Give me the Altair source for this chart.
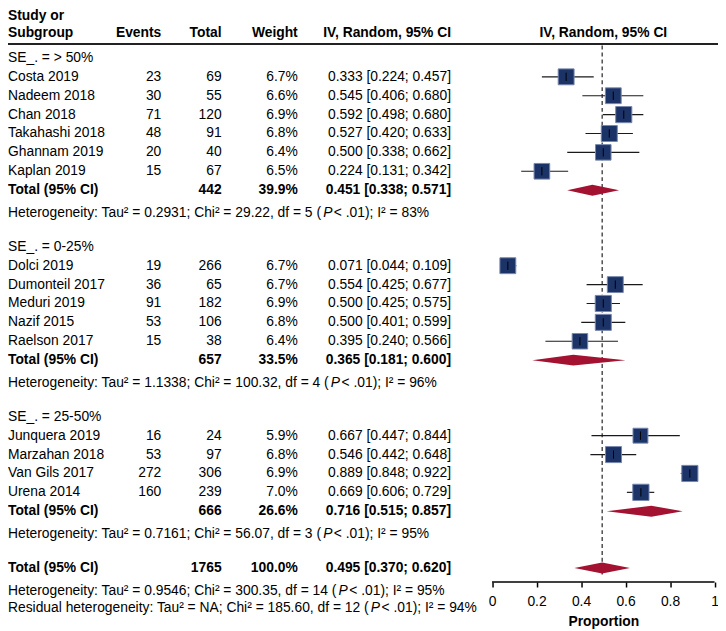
import altair as alt
import pandas as pd

# ---------------- data ----------------
studies = ["Costa 2019", "Nadeem 2018", "Chan 2018", "Takahashi 2018", "Ghannam 2019", "Kaplan 2019",
           "Dolci 2019", "Dumonteil 2017", "Meduri 2019", "Nazif 2015", "Raelson 2017",
           "Junquera 2019", "Marzahan 2018", "Van Gils 2017", "Urena 2014"]
study_group = [0, 0, 0, 0, 0, 0, 1, 1, 1, 1, 1, 2, 2, 2, 2]
events = [23, 30, 71, 48, 20, 15, 19, 36, 91, 53, 15, 16, 53, 272, 160]
totals = [69, 55, 120, 91, 40, 67, 266, 65, 182, 106, 38, 24, 97, 306, 239]
weights = [6.7, 6.6, 6.9, 6.8, 6.4, 6.5, 6.7, 6.7, 6.9, 6.8, 6.4, 5.9, 6.8, 6.9, 7.0]
est = [0.333, 0.545, 0.592, 0.527, 0.500, 0.224, 0.071, 0.554, 0.500, 0.500, 0.395, 0.667, 0.546, 0.889, 0.669]
lo = [0.224, 0.406, 0.498, 0.420, 0.338, 0.131, 0.044, 0.425, 0.425, 0.401, 0.240, 0.447, 0.442, 0.848, 0.606]
hi = [0.457, 0.680, 0.680, 0.633, 0.662, 0.342, 0.109, 0.677, 0.575, 0.599, 0.566, 0.844, 0.648, 0.922, 0.729]

group_labels = ["SE_. = > 50%", "SE_. = 0-25%", "SE_. = 25-50%"]
group_n = [442, 657, 666]
group_w = [39.9, 33.5, 26.6]
group_est = [0.451, 0.365, 0.716]
group_lo = [0.338, 0.181, 0.515]
group_hi = [0.571, 0.600, 0.857]
group_tau = ["0.2931", "1.1338", "0.7161"]
group_chi = ["29.22", "100.32", "56.07"]
group_df = [5, 4, 3]
group_i2 = [83, 96, 95]

overall_n = 1765
overall_w = 100.0
overall_est = 0.495
overall_lo = 0.370
overall_hi = 0.620
overall_tau = "0.9546"
overall_chi = "300.35"
overall_df = 14
overall_i2 = 95
resid_tau = "NA"
resid_chi = "185.60"
resid_df = 12
resid_i2 = 94

x_ticks = [0, 0.2, 0.4, 0.6, 0.8, 1]

# ---------------- layout / style ----------------
FONT = "Liberation Sans"
FS = 14
W, H = 718, 577
ROW_PX = 19.1
ROW0 = 47.0
X0, XU = 489.5, 225.0
COL_EVENTS, COL_TOTAL, COL_WEIGHT, COL_CI = 155, 216, 293, 448
SQ_FILL, SQ_STROKE = "#1b3366", "#7888ad"
DIAMOND = "#a31230"

AR = {' ': 278, '(': 333, ')': 333, '%': 889, ',': 278, '-': 333, '.': 278, ':': 278, ';': 278,
      '<': 584, '=': 584, '>': 584, '_': 556, '\u00b2': 333, '[': 278, ']': 278}
for d in "0123456789":
    AR[d] = 556
AR.update(dict(A=667, B=667, C=722, D=722, E=667, F=611, G=778, H=722, I=278, J=500, K=667, L=556, M=833,
               N=722, O=778, P=667, Q=778, R=722, S=667, T=611, U=722, V=667, W=944, X=667, Y=667, Z=611))
AR.update(dict(a=556, b=556, c=500, d=556, e=556, f=278, g=556, h=556, i=222, j=222, k=500, l=222, m=833,
               n=556, o=556, p=556, q=556, r=333, s=500, t=278, u=556, v=500, w=722, x=500, y=500, z=500))


def tw(s):
    return sum(AR.get(c, 556) for c in s) * FS / 1000.0


def fmt3(v):
    return f"{v:.3f}"


def ci_text(e, l, h):
    return f"{fmt3(e)} [{fmt3(l)}; {fmt3(h)}]"


# ---------------- build rows ----------------
reg_rows = []
bold_rows = []
study_rows = []
total_rows = []
het_rows = []

HDR1, HDR2, HLINE = -2.225, -1.31, -0.733

bold_rows.append(dict(r=HDR1, col="left", text="Study or"))
for col, txt in [("left", "Subgroup"), ("events", "Events"), ("total", "Total"),
                 ("weight", "Weight"), ("ci", "IV, Random, 95% CI")]:
    bold_rows.append(dict(r=HDR2, col=col, text=txt))


def add_het(r, prefix, i2):
    het_rows.append(dict(r=r, pre=prefix, post=f" < .01); I\u00b2 = {i2}%"))


r = 0.0
for g in range(3):
    reg_rows.append(dict(r=r, col="left", text=group_labels[g]))
    k = 1
    for i, s in enumerate(studies):
        if study_group[i] != g:
            continue
        rr = r + k
        k += 1
        study_rows.append(dict(r=rr, est=est[i], lo=lo[i], hi=hi[i], w=weights[i]))
        reg_rows += [dict(r=rr, col="left", text=s),
                     dict(r=rr, col="events", text=str(events[i])),
                     dict(r=rr, col="total", text=str(totals[i])),
                     dict(r=rr, col="weight", text=f"{weights[i]:.1f}%"),
                     dict(r=rr, col="ci", text=ci_text(est[i], lo[i], hi[i]))]
    rt = r + k
    total_rows.append(dict(r=rt, est=group_est[g], lo=group_lo[g], hi=group_hi[g], key=f"g{g}"))
    bold_rows += [dict(r=rt, col="left", text="Total (95% CI)"),
                  dict(r=rt, col="total", text=str(group_n[g])),
                  dict(r=rt, col="weight", text=f"{group_w[g]:.1f}%"),
                  dict(r=rt, col="ci", text=ci_text(group_est[g], group_lo[g], group_hi[g]))]
    rh = rt + 1.2
    add_het(rh, f"Heterogeneity: Tau\u00b2 = {group_tau[g]}; Chi\u00b2 = {group_chi[g]}, df = {group_df[g]} (",
            group_i2[g])
    r = rh + 1.8

rt = r
total_rows.append(dict(r=rt, est=overall_est, lo=overall_lo, hi=overall_hi, key="all"))
bold_rows += [dict(r=rt, col="left", text="Total (95% CI)"),
              dict(r=rt, col="total", text=str(overall_n)),
              dict(r=rt, col="weight", text=f"{overall_w:.1f}%"),
              dict(r=rt, col="ci", text=ci_text(overall_est, overall_lo, overall_hi))]
add_het(rt + 1.2, f"Heterogeneity: Tau\u00b2 = {overall_tau}; Chi\u00b2 = {overall_chi}, df = {overall_df} (",
        overall_i2)
add_het(rt + 2.15, f"Residual heterogeneity: Tau\u00b2 = {resid_tau}; Chi\u00b2 = {resid_chi}, df = {resid_df} (",
        resid_i2)

reg_df = pd.DataFrame(reg_rows)
bold_df = pd.DataFrame(bold_rows)
study_df = pd.DataFrame(study_rows)
study_df["t0"] = study_df["r"] - 0.22
study_df["t1"] = study_df["r"] + 0.22
total_df = pd.DataFrame(total_rows)

# diamonds
dia = []
for _, t in total_df.iterrows():
    dia += [dict(key=t["key"], x=t["lo"], y0=t["r"], y1=t["r"]),
            dict(key=t["key"], x=t["est"], y0=t["r"] - 0.29, y1=t["r"] + 0.29),
            dict(key=t["key"], x=t["hi"], y0=t["r"], y1=t["r"])]
dia_df = pd.DataFrame(dia)

# heterogeneity pieces (italic P)
het_norm, het_ital = [], []
for h in het_rows:
    w1 = tw(h["pre"])
    het_norm.append(dict(r=h["r"], px=0.0, text=h["pre"]))
    het_ital.append(dict(r=h["r"], px=w1, text="P"))
    het_norm.append(dict(r=h["r"], px=w1 + 0.667 * FS + 1.5, text=h["post"]))
hn_df = pd.DataFrame(het_norm)
hi_df = pd.DataFrame(het_ital)

# scales
yscale = alt.Scale(domain=[-ROW0 / ROW_PX, (H - ROW0) / ROW_PX], reverse=True, nice=False, zero=False)
xscale = alt.Scale(domain=[-X0 / XU, (W - X0) / XU], nice=False, zero=False)


def Y(f):
    return alt.Y(f, type="quantitative", scale=yscale, axis=None)


colx = {"left": (0, "left"), "events": (COL_EVENTS, "right"), "total": (COL_TOTAL, "right"),
        "weight": (COL_WEIGHT, "right"), "ci": (COL_CI, "right")}

layers = []


def text_layers(df, bold):
    out = []
    for col, (px, al) in colx.items():
        sub = df[df["col"] == col]
        if len(sub) == 0:
            continue
        out.append(alt.Chart(sub).mark_text(align=al, baseline="middle", font=FONT, fontSize=FS,
                                            fontWeight="bold" if bold else "normal", color="black")
                   .encode(x=alt.value(px), y=Y("r"), text="text:N"))
    return out


layers += text_layers(reg_df, False)
layers += text_layers(bold_df, True)

# right header
layers.append(alt.Chart(pd.DataFrame([dict(r=HDR2, x=0.5, text="IV, Random, 95% CI")]))
              .mark_text(align="center", baseline="middle", font=FONT, fontSize=FS, fontWeight="bold", color="black")
              .encode(x=alt.X("x:Q", scale=xscale), y=Y("r"), text="text:N"))

# heterogeneity text
layers.append(alt.Chart(hn_df).mark_text(align="left", baseline="middle", font=FONT, fontSize=FS, color="black")
              .encode(x=alt.X("px:Q", scale=None), y=Y("r"), text="text:N"))
layers.append(alt.Chart(hi_df).mark_text(align="left", baseline="middle", font=FONT, fontSize=FS,
                                         fontStyle="italic", color="black")
              .encode(x=alt.X("px:Q", scale=None), y=Y("r"), text="text:N"))

# header line
layers.append(alt.Chart(pd.DataFrame([dict(r=HLINE)])).mark_rule(color="#222", strokeWidth=2)
              .encode(x=alt.value(0), x2=alt.value(W), y=Y("r")))

# dashed reference line at overall estimate
layers.append(alt.Chart(pd.DataFrame([dict(x=overall_est, y0=HLINE + 0.08, y1=rt + 0.35)]))
              .mark_rule(color="#333", strokeWidth=1.3, strokeDash=[4, 3])
              .encode(x=alt.X("x:Q", scale=xscale), y=Y("y0"), y2="y1:Q"))

# CI lines with the x axis
layers.append(alt.Chart(study_df).mark_rule(color="#1a1a1a", strokeWidth=1.2)
              .encode(x=alt.X("lo:Q", scale=xscale,
                              axis=alt.Axis(values=x_ticks, domain=False, grid=False, tickSize=5, tickWidth=1.5,
                                            tickColor="black", labelFont=FONT, labelFontSize=FS,
                                            labelColor="black", labelPadding=8, format="~g",
                                            title="Proportion", titleFont=FONT, titleFontSize=FS,
                                            titleFontWeight="bold", titleColor="black",
                                            titleX=X0 + 0.5 * XU, titlePadding=6)),
                      x2="hi:Q", y=Y("r")))

# squares
layers.append(alt.Chart(study_df).mark_square(opacity=1, fill=SQ_FILL, stroke=SQ_STROKE, strokeWidth=1)
              .encode(x=alt.X("est:Q", scale=xscale), y=Y("r"),
                      size=alt.Size("w:Q", scale=alt.Scale(domain=[0, 7], range=[0, 270]), legend=None)))

# estimate ticks
layers.append(alt.Chart(study_df).mark_rule(color="black", strokeWidth=1)
              .encode(x=alt.X("est:Q", scale=xscale), y=Y("t0"), y2="t1:Q"))

# diamonds
layers.append(alt.Chart(dia_df).mark_area(orient="vertical", color=DIAMOND, opacity=1)
              .encode(x=alt.X("x:Q", scale=xscale), y=Y("y0"), y2="y1:Q", detail="key:N"))

# axis domain line from 0 to 1
layers.append(alt.Chart(pd.DataFrame([dict(a=x_ticks[0], b=x_ticks[-1])])).mark_rule(color="black", strokeWidth=1.5)
              .encode(x=alt.X("a:Q", scale=xscale), x2="b:Q", y=alt.value(H)))

chart = (alt.layer(*layers)
         .properties(width=W, height=H, autosize=alt.AutoSizeParams(type="none"),
                     padding={"left": 0, "top": 0, "right": 0, "bottom": 46}, background="white")
         .configure_view(stroke=None))

chart.save("out.html", embed_options={"renderer": "svg", "actions": False})
